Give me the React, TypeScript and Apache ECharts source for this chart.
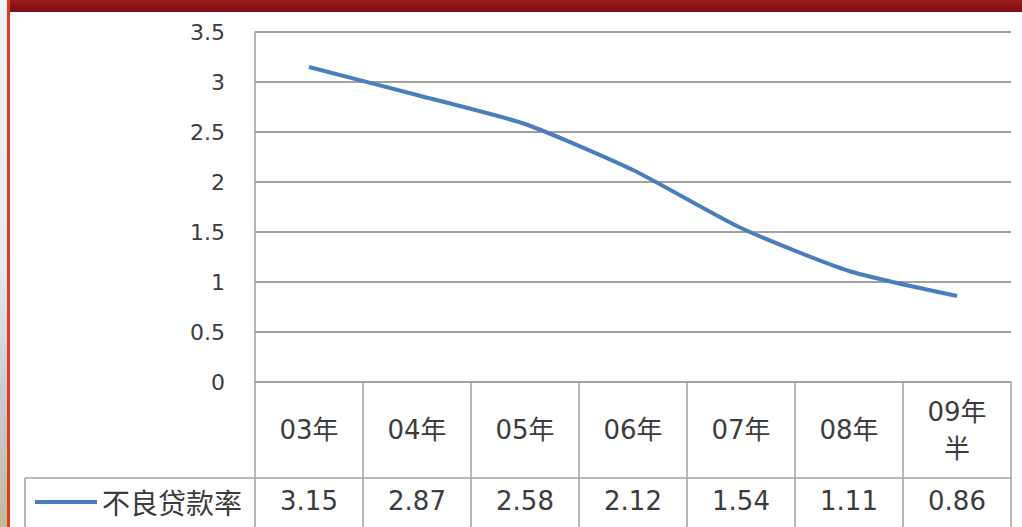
import React, { useEffect, useRef } from "react";
import * as echarts from "echarts";

const categories = ["03年", "04年", "05年", "06年", "07年", "08年", "09年\n半"];
const values = [3.15, 2.87, 2.58, 2.12, 1.54, 1.11, 0.86];
const valueLabels = ["3.15", "2.87", "2.58", "2.12", "1.54", "1.11", "0.86"];
const seriesName = "不良贷款率";

const FONT = "'DejaVu Sans', 'Noto Sans CJK SC', sans-serif";
const CJK = "'Noto Sans CJK SC', sans-serif";
const TEXT = "#3c3c3c";
const GRID = "#a0a0a0";
const LINE = "#4a7ebb";

export default function App() {
  const ref = useRef<HTMLDivElement>(null);
  useEffect(() => {
    document.body.style.margin = "0";
    const chart = echarts.init(ref.current!, null, { renderer: "svg" });
    chart.setOption({
      animation: false,
      backgroundColor: "#ffffff",
      grid: { left: 255, right: 11, top: 32, bottom: 145 },
      legend: {
        show: true,
        left: 30,
        top: 483,
        itemWidth: 62,
        itemHeight: 4,
        icon: "rect",
        itemGap: 4,
        textStyle: { fontSize: 28, color: TEXT, fontFamily: CJK, padding: [0, 0, 0, 0] },
        data: [{ name: seriesName, icon: "rect" }],
      },
      xAxis: [
        {
          type: "category",
          data: categories,
          boundaryGap: true,
          position: "bottom",
          axisLine: { show: true, lineStyle: { color: GRID, width: 1.5 } },
          axisTick: { show: true, length: 150, lineStyle: { color: GRID, width: 1.5 } },
          axisLabel: {
            margin: 48,
            verticalAlign: "middle",
            fontSize: 26,
            lineHeight: 37,
            color: TEXT,
            fontFamily: FONT,
            interval: 0,
          },
          splitLine: { show: false },
        },
        {
          type: "category",
          data: valueLabels,
          boundaryGap: true,
          position: "bottom",
          offset: 96,
          axisLine: { show: false },
          axisTick: { show: false },
          axisLabel: {
            margin: 23,
            verticalAlign: "middle",
            fontSize: 26,
            color: TEXT,
            fontFamily: FONT,
            interval: 0,
          },
        },
      ],
      yAxis: {
        type: "value",
        min: 0,
        max: 3.5,
        interval: 0.5,
        axisLine: { show: true, lineStyle: { color: GRID, width: 1.5 } },
        axisTick: { show: false },
        axisLabel: { margin: 30, fontSize: 22, color: TEXT, fontFamily: FONT },
        splitLine: { show: true, lineStyle: { color: GRID, width: 2 } },
      },
      series: [
        {
          name: seriesName,
          type: "line",
          data: values,
          smooth: 0.2,
          showSymbol: false,
          symbol: "none",
          lineStyle: { color: LINE, width: 4 },
          itemStyle: { color: LINE },
        },
      ],
      graphic: [
        {
          type: "rect",
          shape: { x: 0, y: 0, width: 7, height: 527 },
          style: {
            fill: new echarts.graphic.LinearGradient(0, 0, 0, 1, [
              { offset: 0, color: "#eef2f9" },
              { offset: 0.5, color: "#e6eaf0" },
              { offset: 0.75, color: "#c8ccd2" },
              { offset: 1, color: "#c0bc98" },
            ]),
          },
          silent: true,
        },
        {
          type: "rect",
          shape: { x: 7, y: 0, width: 3, height: 527 },
          style: { fill: "#e23c1e" },
          silent: true,
        },
        {
          type: "rect",
          shape: { x: 10, y: 0, width: 1012, height: 12 },
          style: {
            fill: new echarts.graphic.LinearGradient(0, 0, 0, 1, [
              { offset: 0, color: "#a01820" },
              { offset: 1, color: "#7c0e14" },
            ]),
          },
          silent: true,
        },
        {
          type: "line",
          shape: { x1: 25, y1: 478, x2: 1011, y2: 478 },
          style: { stroke: GRID, lineWidth: 1.5 },
          silent: true,
        },
        {
          type: "line",
          shape: { x1: 25, y1: 478, x2: 25, y2: 527 },
          style: { stroke: GRID, lineWidth: 1.5 },
          silent: true,
        },
      ],
    });
    return () => chart.dispose();
  }, []);
  return (
    <div
      ref={ref}
      style={{ position: "absolute", left: 0, top: 0, width: 1022, height: 527 }}
    />
  );
}
